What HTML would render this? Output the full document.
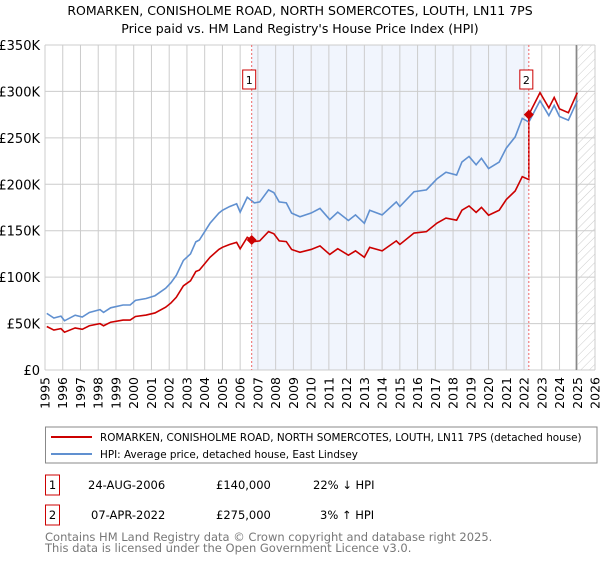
<!DOCTYPE html>
<html><head><meta charset="utf-8"><style>
body{margin:0;background:#fff;font-family:"Liberation Sans","DejaVu Sans",sans-serif;}
svg text{font-family:"DejaVu Sans","Liberation Sans",sans-serif;}
</style></head><body>
<svg id="chart" width="600" height="560" xmlns="http://www.w3.org/2000/svg">
<defs><pattern id="hatch" width="6" height="6" patternUnits="userSpaceOnUse" patternTransform="rotate(45)"><line x1="0" y1="0" x2="0" y2="6" stroke="#ccc" stroke-width="1"/></pattern></defs>
<text x="300" y="15" font-size="12.5" text-anchor="middle">ROMARKEN, CONISHOLME ROAD, NORTH SOMERCOTES, LOUTH, LN11 7PS</text>
<text x="300" y="33" font-size="12.5" text-anchor="middle">Price paid vs. HM Land Registry's House Price Index (HPI)</text>
<g id="grid"></g><g id="marks"></g>
<rect x="45.5" y="427" width="551.5" height="36" fill="#fff" stroke="#888"/>
<line x1="51" y1="437" x2="92" y2="437" stroke="#cc0000" stroke-width="2"/>
<text x="100" y="441" font-size="10.4">ROMARKEN, CONISHOLME ROAD, NORTH SOMERCOTES, LOUTH, LN11 7PS (detached house)</text>
<line x1="51" y1="454" x2="92" y2="454" stroke="#6090d0" stroke-width="2"/>
<text x="100" y="458" font-size="10.4">HPI: Average price, detached house, East Lindsey</text>
<g font-size="11.5">
<rect x="45.5" y="475" width="14" height="20" fill="#fff" stroke="#cc0000"/>
<text x="52.5" y="489" text-anchor="middle">1</text>
<text x="88" y="489">24-AUG-2006</text><text x="216" y="489">£140,000</text><text x="313" y="489">22% ↓ HPI</text>
<rect x="45.5" y="505" width="14" height="20" fill="#fff" stroke="#cc0000"/>
<text x="52.5" y="519" text-anchor="middle">2</text>
<text x="91" y="519">07-APR-2022</text><text x="216" y="519">£275,000</text><text x="320" y="519">3% ↑ HPI</text>
</g>
<text x="45" y="541" font-size="11.5" fill="#777">Contains HM Land Registry data © Crown copyright and database right 2025.</text>
<text x="45" y="552" font-size="11.5" fill="#777">This data is licensed under the Open Government Licence v3.0.</text>
</svg>
<script>
const hpiYears=[1995.1,1995.5,1995.9,1996.1,1996.7,1997.1,1997.5,1998.1,1998.3,1998.7,1999.4,1999.8,2000.1,2000.7,2001.2,2001.8,2002.1,2002.4,2002.8,2003.2,2003.5,2003.7,2004.0,2004.3,2004.8,2005.0,2005.4,2005.8,2006.0,2006.4,2006.8,2007.1,2007.6,2007.9,2008.2,2008.6,2008.9,2009.37,2010.0,2010.5,2011.05,2011.5,2012.1,2012.5,2013.0,2013.3,2014.0,2014.8,2015.0,2015.8,2016.5,2017.1,2017.6,2018.2,2018.5,2018.9,2019.3,2019.6,2020.0,2020.6,2021.0,2021.5,2021.9,2022.27,2022.9,2023.4,2023.7,2024.0,2024.5,2025.0];
const hpiValues=[61,56,58,53,59,57,62,65,62,67,70,70,75,77,80,88,94,102,118,125,138,140,149,158,169,172,176,179,170,186,180,181,194,191,181,180,169,165,169,174,162,170,161,167,158,172,167,181,176,192,194,206,213,210,224,230,221,228,217,224,239,251,271,267,290,274,285,273,269,290];
const saleYears=[2006.65,2022.27];
const salePrices=[140,275];
const saleLabels=["1","2"];
const yTicks=[0,50,100,150,200,250,300,350];
const yTickLabels=["£0","£50K","£100K","£150K","£200K","£250K","£300K","£350K"];
const xTicks=[];for(let y=1995;y<=2026;y++)xTicks.push(y);
const X0=45,X1=595,Y0=370,Y1=45,YMIN=1995,YMAX=2026,VMAX=350;
const xs=y=>X0+(y-YMIN)/(YMAX-YMIN)*(X1-X0);
const ys=v=>Y0-v/VMAX*(Y0-Y1);
const NS="http://www.w3.org/2000/svg";
function mk(t,a,p){const e=document.createElementNS(NS,t);for(const k in a)e.setAttribute(k,a[k]);p.appendChild(e);return e;}
const grid=document.getElementById('grid'),marks=document.getElementById('marks');
mk('rect',{x:X0,y:Y1,width:X1-X0,height:Y0-Y1,fill:'#fff'},grid);
const sh=mk('rect',{x:xs(saleYears[0]),y:Y1,width:xs(saleYears[1])-xs(saleYears[0]),height:Y0-Y1,fill:'#eef2fc',opacity:0.8},grid);


const ht=mk('rect',{x:xs(2024.95),y:Y1,width:X1-xs(2024.95),height:Y0-Y1,fill:'url(#hatch)'},grid);


yTicks.forEach((v,i)=>{
 mk('line',{x1:X0,x2:X1,y1:ys(v),y2:ys(v),stroke:'#ccc'},grid);
 const t=mk('text',{x:X0-5,y:ys(v)+5,'font-size':13,'text-anchor':'end'},grid);t.textContent=yTickLabels[i];
 
 
});
xTicks.forEach(y=>{
 mk('line',{x1:xs(y),x2:xs(y),y1:Y1,y2:Y0,stroke:'#ccc'},grid);
 const x=xs(y)+4.5;
 const t=mk('text',{x:x,y:377,'font-size':12.5,'text-anchor':'end',transform:`rotate(-90 ${x} 377)`},grid);t.textContent=y;
 
 
});
mk('line',{x1:xs(2024.95),x2:xs(2024.95),y1:Y1,y2:Y0,stroke:'#888','stroke-width':1.5},grid);
function hpiAt(y){for(let i=0;i<hpiYears.length-1;i++){if(y<=hpiYears[i+1]){const f=(y-hpiYears[i])/(hpiYears[i+1]-hpiYears[i]);return hpiValues[i]+f*(hpiValues[i+1]-hpiValues[i]);}}return hpiValues[hpiValues.length-1];}
const hpiPts=hpiYears.map((y,i)=>xs(y)+','+ys(hpiValues[i])).join(' ');
const bl=mk('polyline',{points:hpiPts,fill:'none',stroke:'#6090d0','stroke-width':1.6},marks);


const r1=salePrices[0]/hpiAt(saleYears[0]),r2=salePrices[1]/hpiAt(saleYears[1]);
const redPts=[];
hpiYears.forEach((y,i)=>{
 if(y<saleYears[1]) redPts.push([y,hpiValues[i]*r1]);
 else{ if(redPts.length&&redPts[redPts.length-1][0]<saleYears[1]){redPts.push([saleYears[1],hpiAt(saleYears[1])*r1]);redPts.push([saleYears[1],salePrices[1]]);} redPts.push([y,hpiValues[i]*r2]);}
});
const rl=mk('polyline',{points:redPts.map(p=>xs(p[0])+','+ys(p[1])).join(' '),fill:'none',stroke:'#cc0000','stroke-width':1.6},marks);


saleYears.forEach((y,i)=>{
 const x=xs(y);
 const vl=mk('line',{x1:x,x2:x,y1:Y1,y2:Y0,stroke:'#ee6666','stroke-dasharray':'2,2'},marks);
 
 
 const bx=mk('rect',{x:x-9,y:70,width:13,height:19,fill:'#fff',stroke:'#cc0000'},marks);
 
 
 const t=mk('text',{x:x-2.5,y:84,'font-size':11,'text-anchor':'middle'},marks);t.textContent=saleLabels[i];
 const yy=ys(salePrices[i]);
 const d=mk('polygon',{points:`${x},${yy-5} ${x+5},${yy} ${x},${yy+5} ${x-5},${yy}`,fill:'#cc0000'},marks);
 
 
});
</script>
</body></html>
